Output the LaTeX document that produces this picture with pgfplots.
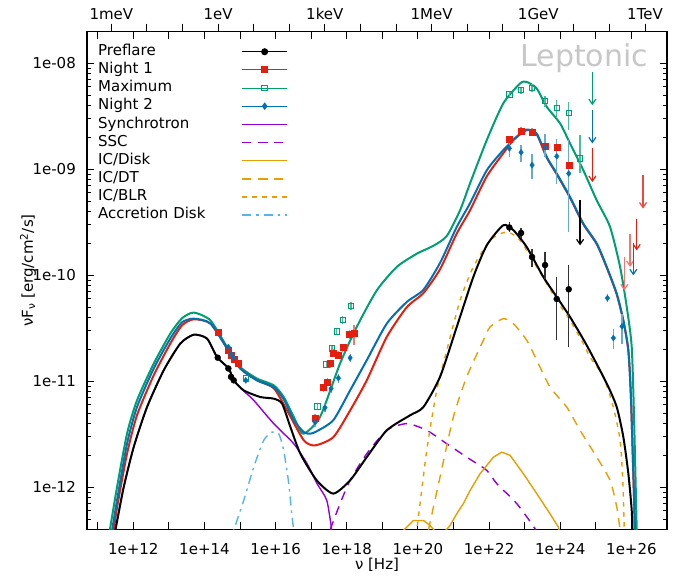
\documentclass[border=0pt]{standalone}
\usepackage{pgfplots}
\pgfplotsset{compat=1.18}
\usepackage{fontspec}
\setmainfont{DejaVu Sans}
\usetikzlibrary{arrows.meta}
\definecolor{cred}{HTML}{E51E10}
\definecolor{cgreen}{HTML}{009E73}
\definecolor{cblue}{HTML}{0072B2}
\definecolor{cpurple}{HTML}{9400D3}
\definecolor{corange}{HTML}{E69F00}
\definecolor{csky}{HTML}{56B4E9}
\begin{document}
\begin{tikzpicture}[font=\fontsize{15bp}{18bp}\selectfont]
\useasboundingbox (0,0) rectangle (688bp,579bp);
% ---------- top energy axis ----------
\begin{axis}[at={(87bp,49.7bp)}, anchor=south west, scale only axis,
  width=580bp, height=497.7bp,
  xmode=log, xmin=2.0679e-4, xmax=4.1357e12, ymin=0, ymax=1,
  axis x line*=top, axis y line=none,
  xtick={1e-3,1e-2,1e-1,1e0,1e1,1e2,1e3,1e4,1e5,1e6,1e7,1e8,1e9,1e10,1e11,1e12},
  xticklabels={1meV,{},{},1eV,{},{},1keV,{},{},1MeV,{},{},1GeV,{},{},1TeV},
  tick align=outside, major tick length=8bp,
  minor x tick style={draw=none},
  every tick/.style={black, line width=1bp},
  axis line style={line width=1.2bp},
  xticklabel style={anchor=south, inner sep=0pt, yshift=3.5bp},
]
\end{axis}
% ---------- main axis ----------
\begin{axis}[at={(87bp,49.7bp)}, anchor=south west, scale only axis,
  width=580bp, height=497.7bp,
  xmode=log, ymode=log,
  xmin=5e10, xmax=1e27, ymin=4e-13, ymax=2e-8,
  xtick={1e11,1e12,1e13,1e14,1e15,1e16,1e17,1e18,1e19,1e20,1e21,1e22,1e23,1e24,1e25,1e26},
  xticklabels={{},1e+12,{},1e+14,{},1e+16,{},1e+18,{},1e+20,{},1e+22,{},1e+24,{},1e+26},
  minor x tick style={draw=none},
  ytick={1e-12,1e-11,1e-10,1e-9,1e-8},
  yticklabels={1e-12,1e-11,1e-10,1e-09,1e-08},
  minor ytick={5e-13,6e-13,7e-13,8e-13,9e-13,
    2e-12,3e-12,4e-12,5e-12,6e-12,7e-12,8e-12,9e-12,
    2e-11,3e-11,4e-11,5e-11,6e-11,7e-11,8e-11,9e-11,
    2e-10,3e-10,4e-10,5e-10,6e-10,7e-10,8e-10,9e-10,
    2e-9,3e-9,4e-9,5e-9,6e-9,7e-9,8e-9,9e-9},
  tick align=inside, major tick length=7bp, minor tick length=4bp,
  every tick/.style={black, line width=1bp},
  axis line style={line width=1.2bp},
  xticklabel style={anchor=north, inner sep=0pt, yshift=-13.7bp},
  yticklabel style={anchor=east, inner sep=0pt, xshift=-11bp},
  xlabel={ν [Hz]},
  ylabel={νF\textsubscript{ν} [erg/cm\textsuperscript{2}/s]},
  xlabel style={at={(axis description cs:0.5,-0.0717)}, anchor=center},
  ylabel style={at={(axis description cs:-0.1017,0.52)}, anchor=center},
  legend style={draw=none, fill=none, at={(rel axis cs:0.0138,0.9785)}, anchor=north west,
    nodes={inner sep=0pt, text height=11bp, text depth=3.5bp},
    row sep=3.65bp, column sep=36bp},
  legend cell align=left, legend plot pos=right,
  legend image code/.code={\draw[mark repeat=2,mark phase=2,#1] plot coordinates {(0bp,0bp) (22.5bp,0bp) (45bp,0bp)};},
]
% legend entries for the data sets
\addlegendimage{black, line width=1bp, mark=*, mark size=3bp}
\addlegendentry{Preflare}
\addlegendimage{cred, line width=1bp, mark=square*, mark size=3bp}
\addlegendentry{Night 1}
\addlegendimage{cgreen, line width=1bp, mark=square, mark size=2.7bp, mark options={line width=1bp}}
\addlegendentry{Maximum}
\addlegendimage{cblue, line width=1bp, mark=diamond*, mark size=3bp}
\addlegendentry{Night 2}

% ---------- components ----------
\addplot[cpurple, line width=1.4bp, smooth, tension=0.4] coordinates {
(2.7e11,2.8e-13) (3.13e11,3.9e-13) (5.38e11,1.0e-12) (1.03e12,2.4e-12) (2.43e12,5.7e-12)
(7.17e12,1.27e-11) (2.1e13,2.27e-11) (5.0e13,2.75e-11) (1.18e14,2.53e-11) (2.26e14,1.69e-11)
(4.8e14,1.32e-11) (6.65e14,1.02e-11) (1.27e15,8.1e-12) (2.43e15,6.6e-12) (8.85e15,3.98e-12)
(3.24e16,2.57e-12) (7.64e16,1.67e-12) (1.46e17,1.08e-12) (2.74e17,7.5e-13) (3.78e17,3.9e-13) (4.1e17,2.8e-13)};
\addlegendentry{Synchrotron}
\addplot[cpurple, line width=1.4bp, dash pattern=on 9bp off 7bp, smooth, tension=0.4] coordinates {
(3.0e17,2.8e-13) (3.39e17,3.9e-13) (6.47e17,6.98e-13) (1.24e18,1.16e-12) (3.64e18,2.07e-12)
(1.33e19,3.44e-12) (4.85e19,3.98e-12) (1.77e20,3.44e-12) (6.46e20,2.57e-12) (2.35e21,1.92e-12)
(8.6e21,1.44e-12) (1.64e22,1.08e-12) (5.98e22,7.0e-13) (1.96e23,4.05e-13) (2.4e23,3.4e-13)};
\addlegendentry{SSC}
\addplot[corange, line width=1.4bp] coordinates {
(3.14e19,2.8e-13) (3.89e19,3.9e-13) (7.43e19,4.85e-13) (1.42e20,4.85e-13) (2.19e20,4.35e-13)
(3.44e20,3.65e-13) (5.08e20,3.65e-13) (7.98e20,4.35e-13) (1.23e21,5.6e-13) (1.89e21,7.0e-13)
(2.92e21,9.3e-13) (5.57e21,1.34e-12) (1.32e22,1.92e-12) (2.27e22,2.14e-12) (3.88e22,2.0e-12)
(9.18e22,1.34e-12) (2.18e23,8.7e-13) (5.16e23,5.6e-13) (8.84e23,4.2e-13) (1.12e24,3.1e-13)};
\addlegendentry{IC/Disk}
\addplot[corange, line width=1.4bp, dash pattern=on 9bp off 7bp, smooth, tension=0.4] coordinates {
(1.58e20,2.8e-13) (1.96e20,3.9e-13) (4.18e20,1.25e-12) (9.9e20,4.6e-12) (2.35e21,1.1e-11)
(6.9e21,2.44e-11) (1.06e22,3.25e-11) (2.5e22,3.9e-11) (4.8e22,3.5e-11) (1.14e23,2.44e-11)
(2.18e23,1.58e-11) (5.16e23,8.8e-12) (1.52e24,5.7e-12) (3.6e24,3.44e-12) (1.06e25,1.92e-12)
(2.51e25,1.16e-12) (3.87e25,6.5e-13) (4.8e25,3.9e-13) (5.1e25,2.8e-13)};
\addlegendentry{IC/DT}
\addplot[corange, line width=1.4bp, dash pattern=on 4.5bp off 5.5bp, smooth, tension=0.4] coordinates {
(8.3e19,2.8e-13) (9.27e19,3.9e-13) (1.77e20,2.22e-12) (3.38e20,8.2e-12) (6.46e20,1.96e-11)
(1.53e21,5.8e-11) (3.6e21,1.2e-10) (1.06e22,2.14e-10) (3.13e22,2.57e-10) (7.41e22,2.14e-10)
(2.18e23,1.2e-10) (7.96e23,5.8e-11) (1.88e24,3.76e-11) (4.46e24,2.27e-11) (6.87e24,1.69e-11)
(1.63e25,1.1e-11) (3.1e25,5.7e-12) (4.8e25,2.77e-12) (5.71e25,1.16e-12) (6.3e25,3.9e-13) (6.5e25,2.8e-13)};
\addlegendentry{IC/BLR}
\addplot[csky, line width=1.4bp, dash pattern=on 9bp off 5bp on 2.5bp off 5bp, smooth, tension=0.4] coordinates {
(5.77e14,2.8e-13) (6.65e14,3.9e-13) (1.27e15,7.5e-13) (2.43e15,1.55e-12) (4.64e15,2.77e-12)
(7.94e15,3.31e-12) (1.22e16,3.2e-12) (1.69e16,2.22e-12) (2.34e16,1.08e-12) (2.9e16,5.2e-13)
(3.24e16,3.9e-13) (3.4e16,2.8e-13)};
\addlegendentry{Accretion Disk}

% ---------- total models ----------
\addplot[cgreen, line width=2bp, smooth, tension=0.4, forget plot] coordinates {
(1.83e11,2.8e-13) (2.18e11,3.9e-13) (3.49e11,1.0e-12) (6.67e11,3.2e-12) (1.27e12,6.6e-12)
(3.76e12,1.47e-11) (1.1e13,2.82e-11) (2.34e13,3.93e-11) (5e13,4.45e-11) (1.47e14,3.76e-11)
(4.31e14,2.1e-11) (1.02e15,1.36e-11) (3.0e15,1.06e-11) (8.85e15,9.15e-12) (1.69e16,7.1e-12)
(3.24e16,4.6e-12) (6.0e16,3.2e-12) (1.77e17,4.6e-12) (6.47e17,1.47e-11) (1.9e18,3.25e-11)
(6.95e18,7.2e-11) (2.54e19,1.2e-10) (9.27e19,1.6e-10) (2.71e20,1.9e-10) (6.46e20,2.35e-10)
(1.53e21,4.12e-10) (2.92e21,7.4e-10) (8.6e21,1.89e-9) (2.5e22,4.2e-9) (7.41e22,6.48e-9)
(1.14e23,6.7e-9) (2.18e23,5.8e-9) (4.17e23,3.9e-9) (9.86e23,2.72e-9) (1.88e24,1.76e-9)
(4.46e24,9.8e-10) (1.06e25,5.1e-10) (2.51e25,2.86e-10) (4.8e25,1.2e-10) (7.4e25,5.0e-11)
(1.02e26,2.1e-11) (1.19e26,4.3e-12) (1.41e26,3.9e-13) (1.45e26,2.8e-13)};
\addplot[cred, line width=2bp, smooth, tension=0.4, forget plot] coordinates {
(2.45e11,2.8e-13) (2.82e11,3.9e-13) (3.49e11,6.4e-13) (6.67e11,2.07e-12) (1.27e12,4.77e-12)
(3.76e12,1.14e-11) (1.1e13,2.27e-11) (2.34e13,3.37e-11) (5e13,3.85e-11) (1.47e14,3.5e-11)
(4.31e14,2.05e-11) (1.02e15,1.32e-11) (3.0e15,1.02e-11) (8.85e15,8.6e-12) (2.1e16,5.3e-12)
(6.18e16,2.77e-12) (1.28e17,2.48e-12) (4.2e17,2.97e-12) (1.24e18,5.3e-12) (3.64e18,1.02e-11)
(1.33e19,2.62e-11) (4.85e19,5.0e-11) (1.42e20,6.8e-11) (4.18e20,1.14e-10) (1.23e21,2.48e-10)
(2.92e21,4.12e-10) (8.6e21,8.6e-10) (2.5e22,1.42e-9) (4.8e22,1.89e-9) (1.14e23,2.35e-9)
(2.18e23,2.14e-9) (4.17e23,1.29e-9) (7.96e23,9.0e-10) (1.88e24,5.4e-10) (4.46e24,3.03e-10)
(1.06e25,1.97e-10) (2.03e25,1.18e-10) (3.87e25,6.6e-11) (5.93e25,3.7e-11) (8.2e25,1.93e-11)
(9.77e25,6.5e-12) (1.26e26,3.9e-13) (1.3e26,2.8e-13)};
\addplot[cblue, line width=2bp, smooth, tension=0.4, forget plot] coordinates {
(2.15e11,2.8e-13) (2.53e11,3.9e-13) (3.49e11,7.5e-13) (6.67e11,2.57e-12) (1.27e12,5.7e-12)
(3.76e12,1.32e-11) (1.1e13,2.53e-11) (2.34e13,3.6e-11) (5e13,3.9e-11) (1.47e14,3.52e-11)
(4.31e14,2.05e-11) (1.02e15,1.32e-11) (3.0e15,1.02e-11) (8.85e15,8.8e-12) (1.69e16,6.75e-12)
(3.24e16,4.3e-12) (6.18e16,3.31e-12) (9.46e16,3.2e-12) (1.43e17,3.37e-12) (4.2e17,4.3e-12)
(1.24e18,8.2e-12) (3.64e18,1.58e-11) (1.33e19,3.5e-11) (4.85e19,5.6e-11) (1.42e20,7.3e-11)
(4.18e20,1.31e-10) (1.23e21,2.86e-10) (2.92e21,4.8e-10) (8.6e21,9.8e-10) (2.5e22,1.52e-9)
(7.41e22,2.18e-9) (1.14e23,2.38e-9) (2.18e23,2.18e-9) (4.17e23,1.31e-9) (7.96e23,9.15e-10)
(1.88e24,5.5e-10) (4.46e24,3.08e-10) (1.06e25,2.0e-10) (2.03e25,1.2e-10) (3.87e25,6.7e-11)
(5.93e25,3.76e-11) (8.2e25,1.96e-11) (9.77e25,6.6e-12) (1.26e26,3.9e-13) (1.3e26,2.8e-13)};
\addplot[black, line width=2bp, smooth, tension=0.4, forget plot] coordinates {
(2.7e11,2.8e-13) (3.13e11,3.9e-13) (5.38e11,1.0e-12) (1.03e12,2.4e-12) (2.43e12,5.7e-12)
(7.17e12,1.27e-11) (2.1e13,2.27e-11) (5.0e13,2.75e-11) (1.18e14,2.53e-11) (2.26e14,1.69e-11)
(4.8e14,1.32e-11) (6.65e14,1.02e-11) (1.27e15,8.2e-12) (3.72e15,7.1e-12) (8.85e15,6.85e-12)
(1.52e16,6.15e-12) (2.6e16,3.7e-12) (4.95e16,2.07e-12) (1.43e17,1.16e-12) (4.2e17,8.7e-13)
(1.24e18,1.16e-12) (3.64e18,1.92e-12) (1.33e19,3.44e-12) (6.0e19,4.77e-12) (1.42e20,5.7e-12)
(4.18e20,1.1e-11) (1.23e21,3.25e-11) (3.6e21,9.65e-11) (8.6e21,1.92e-10) (2.5e22,2.97e-10)
(4.8e22,2.67e-10) (1.14e23,1.85e-10) (3.35e23,9.65e-11) (7.96e23,6.25e-11) (1.88e24,4.05e-11)
(5.56e24,2.18e-11) (2.03e25,9.5e-12) (3.87e25,5.7e-12) (5.93e25,2.97e-12) (8.2e25,1.34e-12)
(1.02e26,6.0e-13) (1.11e26,2.8e-13)};

% ---------- data: Maximum (green open squares) ----------
\addplot[cgreen, only marks, mark=square, mark size=2.7bp, mark options={line width=1bp}, forget plot,
  error bars/.cd, y dir=both, y explicit, error mark=none,
  error bar style={line width=1.2bp, cgreen!70}] coordinates {
(1.45e15,1.06e-11)
(1.49e17,5.8e-12) +- (0,0.5e-12)
(2.67e17,1.44e-11) +- (0,1.2e-12)
(3.86e17,2.03e-11) +- (0,1.6e-12)
(5.22e17,2.94e-11) +- (0,2.2e-12)
(7.71e17,3.79e-11) +- (0,3e-12)
(1.32e18,5.14e-11) +- (0,4e-12)
(3.71e22,5.1e-9) +- (0,0.4e-9)
(7.91e22,5.6e-9) +- (0,0.4e-9)
(1.61e23,5.89e-9) +- (0,0.5e-9)
(3.74e23,4.41e-9) +- (0,0.5e-9)
(7.96e23,3.79e-9) += (0,0.71e-9) -= (0,0.76e-9)
(1.73e24,3.42e-9) += (0,0.93e-9) -= (0,1.07e-9)
(3.6e24,1.27e-9) += (0,0.83e-9) -= (0,0.355e-9)};

% ---------- data: Night 1 (red filled squares) ----------
\addplot[cred, only marks, mark=square*, mark size=3bp, forget plot,
  error bars/.cd, y dir=both, y explicit, error mark=none,
  error bar style={line width=1.2bp, cred!60}] coordinates {
(2.36e14,2.92e-11) (4.69e14,1.96e-11) (5.58e14,1.76e-11) (6.65e14,1.6e-11) (8.63e14,1.47e-11)
(1.28e17,4.49e-12) +- (0,0.4e-12)
(2.19e17,8.7e-12) +- (0,0.8e-12)
(2.84e17,9.84e-12) +- (0,0.9e-12)
(3.39e17,1.47e-11) +- (0,1.3e-12)
(4.2e17,1.85e-11) +- (0,1.6e-12)
(5.8e17,1.77e-11) +- (0,1.6e-12)
(7.71e17,2.08e-11) +- (0,1.9e-12)
(1.18e18,2.77e-11) +- (0,2.5e-12)
(1.6e18,2.82e-11) +- (0,6e-12)
(3.71e22,1.92e-9) +- (0,0.15e-9)
(7.91e22,2.31e-9) +- (0,0.18e-9)
(1.61e23,2.26e-9) +- (0,0.2e-9)
(3.74e23,1.66e-9) +- (0,0.25e-9)
(7.96e23,1.63e-9) +- (0,0.3e-9)
(1.73e24,1.1e-9) += (0,0.4e-9) -= (0,0.35e-9)};

% ---------- data: Night 2 (blue diamonds) ----------
\addplot[cblue, only marks, mark=diamond*, mark size=3bp, forget plot,
  error bars/.cd, y dir=both, y explicit, error mark=none,
  error bar style={line width=1.2bp, cblue!60}] coordinates {
(4.69e14,2.1e-11) (5.58e14,1.82e-11) (6.65e14,1.67e-11) (1.45e15,1.02e-11)
(1.28e17,4.12e-12) +- (0,0.4e-12)
(2.45e17,5.63e-12) +- (0,0.5e-12)
(3.61e17,8.5e-12) +- (0,0.8e-12)
(5.8e17,1.07e-11) +- (0,1.0e-12)
(1.24e18,1.66e-11) +- (0,1.5e-12)
(3.71e22,1.58e-9) += (0,0.24e-9) -= (0,0.27e-9)
(7.91e22,1.45e-9) += (0,0.24e-9) -= (0,0.27e-9)
(1.61e23,1.1e-9) += (0,0.31e-9) -= (0,0.28e-9)
(3.74e23,1.62e-9) += (0,0.56e-9) -= (0,0.31e-9)
(7.96e23,1.33e-9) += (0,0.56e-9) -= (0,0.594e-9)
(1.73e24,9.15e-10) += (0,9.75e-10) -= (0,6.58e-10)
(2.11e25,6.1e-11) +- (0,0.5e-11)
(3.1e25,2.56e-11) += (0,0.58e-11) -= (0,0.53e-11)
(5.46e25,3.3e-11) += (0,1.05e-11) -= (0,1.03e-11)};

% ---------- data: Preflare (black circles) ----------
\addplot[black, only marks, mark=*, mark size=3bp, forget plot,
  error bars/.cd, y dir=both, y explicit, error mark=none,
  error bar style={line width=1.2bp, black!80}] coordinates {
(2.36e14,1.67e-11) (4.69e14,1.32e-11) (5.58e14,1.1e-11) (6.65e14,1.02e-11)
(3.71e22,2.83e-10) += (0,0.34e-10) -= (0,0.28e-10)
(7.91e22,2.51e-10) += (0,0.29e-10) -= (0,0.26e-10)
(1.61e23,1.49e-10) += (0,0.30e-10) -= (0,0.29e-10)
(3.74e23,1.25e-10) += (0,0.41e-10) -= (0,0.32e-10)
(7.96e23,5.98e-11) += (0,3.67e-11) -= (0,3.54e-11)
(1.73e24,7.38e-11) += (0,5.12e-11) -= (0,5.28e-11)};

% ---------- upper limits ----------
\addplot[black, line width=1.2bp, -{Straight Barb[length=5bp,width=7bp]}, forget plot] coordinates {(3.6e24,5.1e-10) (3.6e24,1.92e-10)};
\addplot[cgreen, line width=1.2bp, -{Straight Barb[length=5bp,width=7bp]}, forget plot] coordinates {(7.98e24,8.34e-9) (7.98e24,4.04e-9)};
\addplot[cblue, line width=1.2bp, -{Straight Barb[length=5bp,width=7bp]}, forget plot] coordinates {(7.98e24,3.62e-9) (7.98e24,1.76e-9)};
\addplot[cred, line width=1.2bp, -{Straight Barb[length=5bp,width=7bp]}, forget plot] coordinates {(7.98e24,1.58e-9) (7.98e24,7.6e-10)};
\addplot[cred!80, line width=1.2bp, -{Straight Barb[length=5bp,width=7bp]}, forget plot] coordinates {(2.12e26,8.8e-10) (2.12e26,4.27e-10)};
\addplot[cred, line width=1.2bp, -{Straight Barb[length=5bp,width=7bp]}, forget plot] coordinates {(1.41e26,3.44e-10) (1.41e26,1.72e-10)};
\addplot[cred!60, line width=1.2bp, -{Straight Barb[length=5bp,width=7bp]}, forget plot] coordinates {(9.16e25,2.48e-10) (9.16e25,1.2e-10)};
\addplot[cred!60, line width=1.2bp, -{Straight Barb[length=5bp,width=7bp]}, forget plot] coordinates {(6.32e25,1.49e-10) (6.32e25,7.2e-11)};
\addplot[cblue, line width=1.2bp, -{Straight Barb[length=5bp,width=7bp]}, forget plot] coordinates {(1.13e26,2.0e-10) (1.13e26,1.0e-10)};

\node[anchor=base east, inner sep=0pt, text=black!22, font=\fontsize{30bp}{36bp}\selectfont] at (rel axis cs:0.9678,0.9295) {Leptonic};
\end{axis}
\end{tikzpicture}
\end{document}
